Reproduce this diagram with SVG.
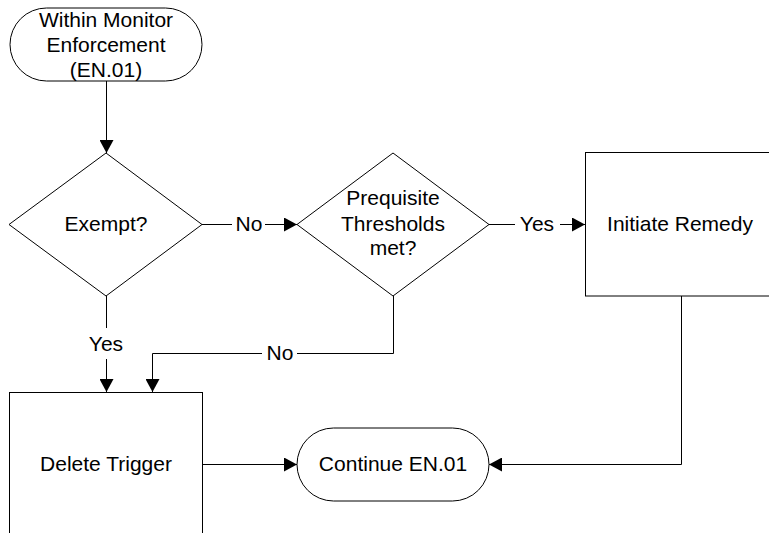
<svg xmlns="http://www.w3.org/2000/svg" width="769" height="533" viewBox="0 0 769 533">
  <style>
    .shape { fill: #ffffff; stroke: #000000; stroke-width: 1; }
    .wire { fill: none; stroke: #000000; stroke-width: 1; }
    text { font-family: "Liberation Sans", Arial, sans-serif; font-size: 21px; fill: #000000; text-anchor: middle; }
  </style>
  <defs>
    <marker id="arrow" viewBox="0 0 13 14" refX="13" refY="7" markerWidth="13" markerHeight="14" markerUnits="userSpaceOnUse" orient="auto">
      <path d="M0,0 L13,7 L0,14 z" fill="#000000"/>
    </marker>
  </defs>

  <rect width="769" height="533" fill="#ffffff"/>

  <!-- connectors -->
  <g id="connectors">
    <!-- start -> Exempt? -->
    <path class="wire" d="M106.5,81 V153" marker-end="url(#arrow)"/>
    <!-- Exempt? No -> Prerequisite -->
    <path class="wire" d="M202,224.5 H232"/>
    <text x="249" y="231">No</text>
    <path class="wire" d="M265,224.5 H297" marker-end="url(#arrow)"/>
    <!-- Prerequisite Yes -> Initiate Remedy -->
    <path class="wire" d="M489,224.5 H515"/>
    <text x="537" y="231">Yes</text>
    <path class="wire" d="M560,224.5 H585" marker-end="url(#arrow)"/>
    <!-- Exempt? Yes -> Delete Trigger -->
    <path class="wire" d="M106.5,296 V328"/>
    <text x="106" y="351">Yes</text>
    <path class="wire" d="M106.5,359 V392" marker-end="url(#arrow)"/>
    <!-- Prerequisite No -> Delete Trigger -->
    <path class="wire" d="M393.5,296 V353.5 H297"/>
    <text x="280" y="360">No</text>
    <path class="wire" d="M262,353.5 H152.5 V392" marker-end="url(#arrow)"/>
    <!-- Delete Trigger -> Continue -->
    <path class="wire" d="M202,464.5 H297" marker-end="url(#arrow)"/>
    <!-- Initiate Remedy -> Continue -->
    <path class="wire" d="M681.5,296 V464.5 H489" marker-end="url(#arrow)"/>
  </g>

  <!-- start terminator -->
  <g id="node-start">
    <rect class="shape" x="10" y="8" width="192" height="73" rx="36.5" ry="36.5"/>
    <text x="106" y="27">Within Monitor</text>
    <text x="106" y="52">Enforcement</text>
    <text x="106" y="77">(EN.01)</text>
  </g>

  <!-- decision: Exempt? -->
  <g id="node-exempt">
    <polygon class="shape" points="106,153 202,224.5 106,296 9,224.5"/>
    <text x="106" y="231">Exempt?</text>
  </g>

  <!-- decision: thresholds -->
  <g id="node-thresholds">
    <polygon class="shape" points="393,153 489,224.5 393,296 297,224.5"/>
    <text x="393" y="205">Prequisite</text>
    <text x="393" y="231">Thresholds</text>
    <text x="393" y="255">met?</text>
  </g>

  <!-- process: Initiate Remedy -->
  <g id="node-remedy">
    <rect class="shape" x="585.5" y="152.5" width="190" height="143.5"/>
    <text x="680" y="231">Initiate Remedy</text>
  </g>

  <!-- process: Delete Trigger -->
  <g id="node-delete">
    <rect class="shape" x="9.5" y="392.5" width="193" height="144"/>
    <text x="106" y="471">Delete Trigger</text>
  </g>

  <!-- end terminator -->
  <g id="node-continue">
    <rect class="shape" x="297" y="428" width="192" height="73" rx="36.5" ry="36.5"/>
    <text x="393" y="471">Continue EN.01</text>
  </g>
</svg>
